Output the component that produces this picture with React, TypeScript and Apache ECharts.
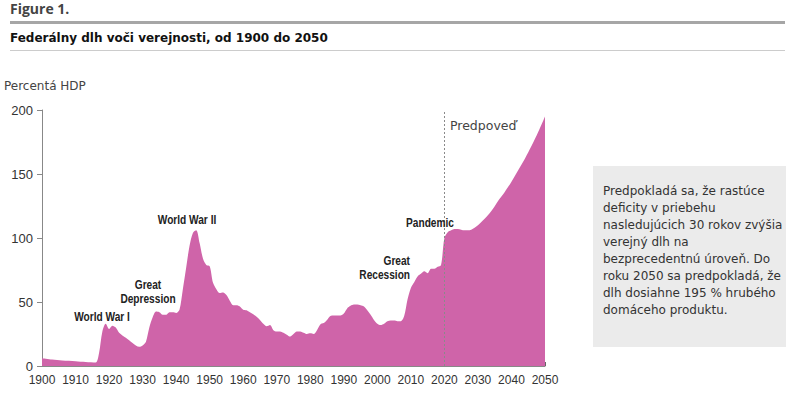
import React, { useEffect, useRef } from "react";
import * as echarts from "echarts";

const years = [
  1900, 1903, 1906, 1910, 1913, 1916, 1917, 1918, 1919, 1920, 1921, 1922, 1923, 1925, 1927, 1929,
  1930, 1931, 1932, 1933, 1934, 1935, 1936, 1937, 1938, 1939, 1940, 1941, 1942, 1943, 1944, 1945,
  1946, 1947, 1948, 1949, 1950, 1951, 1952, 1953, 1954, 1955, 1956, 1957, 1958, 1959, 1960, 1961,
  1962, 1963, 1964, 1965, 1966, 1967, 1968, 1969, 1970, 1971, 1972, 1973, 1974, 1975, 1976, 1977,
  1978, 1979, 1980, 1981, 1982, 1983, 1984, 1985, 1986, 1987, 1988, 1989, 1990, 1991, 1992, 1993,
  1994, 1995, 1996, 1997, 1998, 1999, 2000, 2001, 2002, 2003, 2004, 2005, 2006, 2007, 2008, 2009,
  2010, 2011, 2012, 2013, 2014, 2015, 2016, 2017, 2018, 2019, 2020, 2021, 2022, 2023, 2024, 2025,
  2026, 2027, 2028, 2029, 2030, 2032, 2034, 2036, 2038, 2040, 2042, 2044, 2046, 2048, 2050,
];

const debt = [
  6.0, 5.0, 4.2, 3.8, 3.2, 2.8, 10, 27, 33, 29, 31.5, 30, 26, 22, 18, 15,
  16, 19, 30, 38, 42.5, 42, 40, 40, 42, 42, 41.5, 44, 60, 77, 94, 104,
  106, 96, 84, 79, 78, 65, 60, 57, 57.5, 55.5, 51, 47.5, 47.5, 46.5, 44, 43.5,
  42, 40.5, 38.5, 36, 33, 31, 32, 28, 27, 27, 26, 24.5, 23, 25, 27, 27,
  26, 25, 25.5, 25, 28, 32.5, 33.5, 36, 39, 39.5, 39.5, 39.5, 41, 45, 47, 48,
  48, 47.5, 46.5, 43.5, 40, 36, 33, 32, 33, 35, 35.5, 35.5, 35, 35, 39, 52,
  61, 65.5, 70, 72, 74, 72.5, 76, 76, 77.5, 79, 100, 104.5, 106, 107, 107, 106.5,
  106, 106, 106.5, 108, 110, 115, 121, 129, 136, 144, 153, 162, 172, 183, 195,
];

const yTicks = [0, 50, 100, 150, 200];
const forecastStart = 2020;

const annotations = [
  { text: "World War I", x: 102, y: 316, align: "center" },
  { text: "Great\nDepression", x: 148, y: 291, align: "center" },
  { text: "World War II", x: 187, y: 219, align: "center" },
  { text: "Great\nRecession", x: 410, y: 267, align: "right" },
  { text: "Pandemic", x: 430, y: 222, align: "center" },
];

const boxText =
  "Predpokladá sa, že rastúce\ndeficity v priebehu\nnasledujúcich 30 rokov zvýšia\nverejný dlh na\nbezprecedentnú úroveň. Do\nroku 2050 sa predpokladá, že\ndlh dosiahne 195 % hrubého\ndomáceho produktu.";

const sans = '"Liberation Sans", Arial, sans-serif';
const verdana = '"DejaVu Sans", Verdana, sans-serif';

export default function App() {
  const ref = useRef<HTMLDivElement>(null);
  useEffect(() => {
    if (!ref.current) return;
    const chart = echarts.init(ref.current, null, { renderer: "svg" });
    const data = years.map((y, i) => [y, debt[i]]);
    chart.setOption({
      animation: false,
      grid: { left: 42, right: 250, top: 110, bottom: 31 },
      xAxis: {
        type: "value",
        min: 1900,
        max: 2050,
        interval: 10,
        axisLine: { show: true, lineStyle: { color: "#888", width: 1 } },
        axisTick: { show: true, inside: true, length: 4, lineStyle: { color: "#666" } },
        axisLabel: {
          color: "#333",
          fontFamily: sans,
          fontSize: 12,
          margin: 8,
          formatter: (v: number) => String(v),
        },
        splitLine: { show: false },
      },
      yAxis: {
        type: "value",
        min: yTicks[0],
        max: yTicks[yTicks.length - 1],
        interval: 50,
        axisLine: { show: true, lineStyle: { color: "#888", width: 1 } },
        axisTick: { show: true, length: 5, lineStyle: { color: "#888" } },
        axisLabel: { color: "#333", fontFamily: sans, fontSize: 13, margin: 9 },
        splitLine: { show: false },
      },
      series: [
        {
          type: "line",
          data,
          smooth: 0.3,
          showSymbol: false,
          lineStyle: { width: 0 },
          areaStyle: { color: "#cf64a9", opacity: 1 },
          z: 2,
          markLine: {
            silent: true,
            symbol: "none",
            label: { show: false },
            lineStyle: { color: "#8a8a8a", type: [2, 2], width: 1 },
            data: [{ xAxis: forecastStart }],
            z: 5,
          },
        },
      ],
      graphic: [
        {
          type: "text",
          left: 10,
          top: 1,
          style: { text: "Figure 1.", font: `bold 14px "Open Sans", sans-serif`, fill: "#444" },
        },
        {
          type: "rect",
          shape: { x: 10, y: 21, width: 775, height: 3 },
          style: { fill: "#a6a6a6" },
        },
        {
          type: "text",
          left: 10,
          top: 32,
          style: {
            text: "Federálny dlh voči verejnosti, od 1900 do 2050",
            font: `bold 12px ${verdana}`,
            fill: "#111",
          },
        },
        {
          type: "rect",
          shape: { x: 10, y: 50, width: 775, height: 1 },
          style: { fill: "#cccccc" },
        },
        {
          type: "text",
          left: 4,
          top: 80,
          style: { text: "Percentá HDP", font: `12px ${verdana}`, fill: "#444" },
        },
        {
          type: "text",
          left: 450,
          top: 119,
          style: { text: "Predpoveď", font: `12.5px ${verdana}`, fill: "#444" },
        },
        ...annotations.map((a) => ({
          type: "text",
          x: a.x,
          y: a.y,
          scaleX: 0.78,
          z: 10,
          style: {
            text: a.text,
            font: `bold 13px ${sans}`,
            fill: "#222",
            align: a.align,
            verticalAlign: "middle",
            lineHeight: 14,
          },
        })),
        {
          type: "rect",
          shape: { x: 593, y: 166, width: 193, height: 181 },
          style: { fill: "#ebebeb" },
        },
        {
          type: "text",
          left: 603,
          top: 182,
          style: {
            text: boxText,
            font: `12px ${verdana}`,
            fill: "#333",
            lineHeight: 17,
          },
        },
      ],
    });
    return () => chart.dispose();
  }, []);
  return (
    <div
      ref={ref}
      style={{ position: "fixed", left: 0, top: 0, width: 795, height: 397, background: "#fff" }}
    />
  );
}
